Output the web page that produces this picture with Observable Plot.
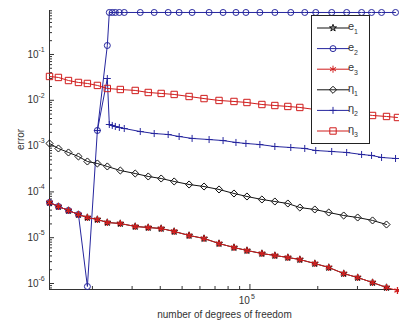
<!DOCTYPE html>
<html><head><meta charset="utf-8">
<script src="https://cdn.jsdelivr.net/npm/d3@7"></script>
<script src="https://cdn.jsdelivr.net/npm/@observablehq/plot@0.6"></script>
<style>
html,body{margin:0;padding:0;background:#fff;}
#chart svg{display:block;}
</style></head><body><div id="chart"></div>
<script>
// degrees of freedom (shared by pairs e1/eta1, e3/eta3)
const dof13 = [12900, 14130, 15660, 17340, 19000, 21040, 23290, 26600, 30970, 35380, 40380, 46110, 53700, 62560, 72920, 84960, 97000, 113000, 129000, 147300, 166500, 194000, 223700, 260600, 300600, 350000, 403700, 451500];
const dof2 = [12900, 14130, 15660, 17340, 19000, 21040, 23290, 23770, 24500, 25270, 26330, 27690, 32610, 37600, 43370, 48510, 55380, 65890, 76000, 86700, 96000, 110700, 129000, 151800, 175100, 195900, 230600, 268700, 313000, 346500, 383800, 442700];

const e1 = [5.87e-5, 4.80e-5, 3.93e-5, 3.21e-5, 2.76e-5, 2.50e-5, 2.15e-5, 2.04e-5, 1.76e-5, 1.67e-5, 1.59e-5, 1.37e-5, 1.12e-5, 9.61e-6, 7.47e-6, 6.11e-6, 5.26e-6, 4.52e-6, 4.09e-6, 3.70e-6, 3.34e-6, 2.73e-6, 2.24e-6, 1.65e-6, 1.35e-6, 1.05e-6, 8.18e-7];
const e2 = [5.87e-5, 4.80e-5, 3.93e-5, 3.21e-5, 8.6e-7, 2.19e-3, 0.157, 0.826, 0.826, 0.826, 0.826, 0.826, 0.826, 0.826, 0.826, 0.826, 0.826, 0.826, 0.826, 0.826, 0.826, 0.826, 0.826, 0.826, 0.826, 0.826, 0.826, 0.826, 0.826, 0.826, 0.826, 0.826];
const e3 = [5.87e-5, 4.80e-5, 3.93e-5, 3.21e-5, 2.76e-5, 2.50e-5, 2.15e-5, 2.04e-5, 1.76e-5, 1.67e-5, 1.59e-5, 1.37e-5, 1.12e-5, 9.61e-6, 7.47e-6, 6.11e-6, 5.26e-6, 4.52e-6, 4.09e-6, 3.70e-6, 3.34e-6, 2.73e-6, 2.24e-6, 1.65e-6, 1.35e-6, 1.05e-6, 8.18e-7, 7.03e-7];
const eta1 = [1.140e-3, 8.87e-4, 7.25e-4, 5.93e-4, 4.61e-4, 4.17e-4, 3.59e-4, 2.93e-4, 2.52e-4, 2.17e-4, 1.96e-4, 1.69e-4, 1.45e-4, 1.31e-4, 1.13e-4, 9.23e-5, 7.94e-5, 6.83e-5, 6.17e-5, 5.58e-5, 4.56e-5, 4.13e-5, 3.55e-5, 3.05e-5, 2.76e-5, 2.38e-5, 1.94e-5];
const eta2 = [null, null, null, null, null, 2.19e-3, 0.0299, 2.96e-3, 2.82e-3, 2.68e-3, 2.55e-3, 2.42e-3, 2.08e-3, 1.88e-3, 1.79e-3, 1.62e-3, 1.47e-3, 1.39e-3, 1.32e-3, 1.20e-3, 1.14e-3, 1.08e-3, 9.80e-4, 9.31e-4, 8.87e-4, 8.01e-4, 7.62e-4, 7.25e-4, 6.56e-4, 6.24e-4, 5.64e-4, 5.36e-4];
const eta3 = [0.0331, 0.0315, 0.0270, 0.0245, 0.0233, 0.0211, 0.0181, 0.0172, 0.0164, 0.0148, 0.0141, 0.0134, 0.0121, 0.0109, 0.00991, 0.00942, 0.00895, 0.00809, 0.00769, 0.00733, 0.00697, 0.00630, 0.00599, 0.00542, 0.00515, 0.00466, 0.00443, 0.00421];

const seriesNames = ["e1", "e2", "e3", "η1", "η2", "η3"];
const xDomain = [12900, 461000];
const yDomain = [7.4e-7, 0.912];
const yMajor = [1e-6, 1e-5, 1e-4, 1e-3, 1e-2, 1e-1];
const xMajor = [1e5];

const BLUE = "#26269e", RED = "#d01c1c", BLACK = "#111", AXIS = "#333";
const W = 399, H = 327, ML = 49, MR = 0, MT = 10, MB = 38;

const style = [
  {name: "e1", dof: dof13, vals: e1, color: BLACK, symbol: "star", r: 2.2, sw: 1},
  {name: "e2", dof: dof2, vals: e2, color: BLUE, symbol: "circle", r: 3, sw: 1},
  {name: "e3", dof: dof13, vals: e3, color: RED, symbol: "asterisk", r: 3.3, sw: 1.3},
  {name: "η1", dof: dof13, vals: eta1, color: BLACK, symbol: "diamond2", r: 3.2, sw: 1},
  {name: "η2", dof: dof2, vals: eta2, color: BLUE, symbol: "plus", r: 2.4, sw: 1},
  {name: "η3", dof: dof13, vals: eta3, color: RED, symbol: "square", r: 3.6, sw: 1}
];

const yMinor = [];
for (let p = -7; p <= -1; p++) for (let k = 2; k <= 9; k++) {
  const v = k * Math.pow(10, p);
  if (v >= yDomain[0] && v <= yDomain[1]) yMinor.push(v);
}
const xMinor = [];
for (let p = 4; p <= 5; p++) for (let k = 2; k <= 9; k++) {
  const v = k * Math.pow(10, p);
  if (v >= xDomain[0] && v <= xDomain[1]) xMinor.push(v);
}

const frameW = W - ML - MR, frameH = H - MT - MB;
const marks = [
  Plot.ruleX([xDomain[0]], {stroke: AXIS}),
  Plot.ruleY([yDomain[0]], {stroke: AXIS}),
  Plot.tickY(yMajor, {y: d => d, insetRight: frameW - 5, stroke: AXIS}),
  Plot.tickY(yMinor, {y: d => d, insetRight: frameW - 3, stroke: AXIS}),
  Plot.tickX(xMajor, {x: d => d, insetTop: frameH - 5, stroke: AXIS}),
  Plot.tickX(xMinor, {x: d => d, insetTop: frameH - 3, stroke: AXIS})
];
for (const s of style) {
  const data = s.vals.map((v, i) => ({x: s.dof[i], y: v, s: s.name})).filter(d => d.y != null);
  marks.push(Plot.line(data, {x: "x", y: "y", stroke: s.color, strokeWidth: 1}));
  marks.push(Plot.dot(data, {x: "x", y: "y", stroke: s.color, fill: "none", symbol: s.symbol, r: s.r, strokeWidth: s.sw}));
}
marks.push(
  Plot.text(yMajor, {y: d => d, frameAnchor: "left", dx: -11, textAnchor: "end", text: () => "10", fontSize: 10, fill: AXIS}),
  Plot.text(yMajor, {y: d => d, frameAnchor: "left", dx: -11, dy: -5, textAnchor: "start", text: d => String(Math.round(Math.log10(d))), fontSize: 7, fill: AXIS}),
  Plot.text(xMajor, {x: d => d, frameAnchor: "bottom", dy: 14, textAnchor: "end", text: () => "10", fontSize: 10, fill: AXIS}),
  Plot.text(xMajor, {x: d => d, frameAnchor: "bottom", dy: 9, dx: 1, textAnchor: "start", text: d => String(Math.round(Math.log10(d))), fontSize: 7, fill: AXIS}),
  Plot.text(["number of degrees of freedom"], {frameAnchor: "bottom", dy: 28, fontSize: 10, fill: AXIS}),
  Plot.text(["error"], {frameAnchor: "left", dx: -29, rotate: -90, fontSize: 10, fill: AXIS})
);

const chart = Plot.plot({
  width: W, height: H,
  marginLeft: ML, marginRight: MR, marginTop: MT, marginBottom: MB,
  style: {fontFamily: "'Liberation Sans', Arial, sans-serif", background: "#fff", overflow: "hidden"},
  x: {type: "log", domain: xDomain, axis: null},
  y: {type: "log", domain: yDomain, axis: null},
  marks
});
document.getElementById("chart").appendChild(chart);

// legend (MATLAB style box)
const svg = d3.select(chart);
const lg = svg.append("g").attr("font-family", "'Liberation Sans', Arial, sans-serif");
lg.append("rect").attr("x", 311.5).attr("y", 15.5).attr("width", 58).attr("height", 128)
  .attr("fill", "white").attr("stroke", "#222");
const symMap = {star: d3.symbolStar, circle: d3.symbolCircle, asterisk: d3.symbolAsterisk,
  diamond2: d3.symbolDiamond2, plus: d3.symbolPlus, square: d3.symbolSquare};
style.forEach((s, i) => {
  const y = 28 + i * 20.6;
  lg.append("line").attr("x1", 317).attr("x2", 349).attr("y1", y).attr("y2", y)
    .attr("stroke", s.color).attr("stroke-width", 1);
  lg.append("path").attr("d", d3.symbol(symMap[s.symbol], Math.PI * s.r * s.r)())
    .attr("transform", `translate(333,${y})`).attr("fill", "none").attr("stroke", s.color);
  const t = lg.append("text").attr("x", 353).attr("y", y + 2).attr("font-size", 11).attr("fill", AXIS);
  t.append("tspan").text(s.name[0]);
  t.append("tspan").attr("font-size", 7).attr("dy", 4).text(s.name.slice(1));
});
</script></body></html>
